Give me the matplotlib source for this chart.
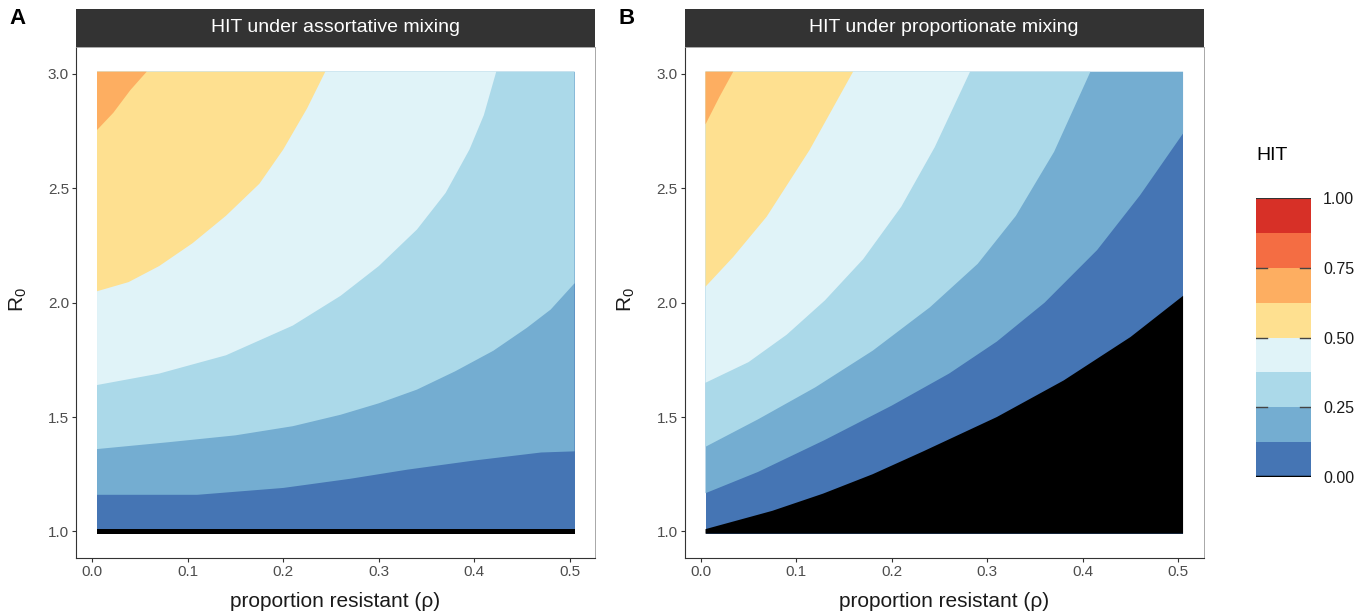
import matplotlib.pyplot as plt
from matplotlib.colors import ListedColormap
import numpy as np

plt.rcParams['font.family'] = ['Liberation Sans', 'DejaVu Sans']
plt.rcParams['mathtext.default'] = 'regular'

# HIT colour steps (RdYlBu, 8 classes), low -> high
hit_breaks = [0, 0.125, 0.25, 0.375, 0.5, 0.625, 0.75, 0.875, 1.0]
hit_colors = ['#4575b4', '#74add1', '#abd9e9', '#e0f3f8',
              '#fee090', '#fdae61', '#f46d43', '#d73027']
cbar_ticks = [0, 0.25, 0.5, 0.75, 1.0]

# tile grid: rho 0.01..0.50 (step 0.01), R0 1.00..3.00 (step 0.02)
rho_lo, rho_hi = 0.005, 0.505
r0_lo, r0_hi = 0.99, 3.01

# ---- A: assortative mixing, R0 where HIT crosses each break
a_125_rho = [0.005, 0.11, 0.2, 0.27, 0.33, 0.40, 0.47, 0.505]
a_125_r0 = [1.16, 1.16, 1.19, 1.23, 1.27, 1.31, 1.345, 1.35]
a_250_rho = [0.005, 0.08, 0.15, 0.21, 0.26, 0.30, 0.34, 0.38, 0.42, 0.455, 0.48, 0.505]
a_250_r0 = [1.36, 1.39, 1.42, 1.46, 1.51, 1.56, 1.62, 1.70, 1.79, 1.89, 1.97, 2.085]
a_375_rho = [0.005, 0.07, 0.14, 0.21, 0.26, 0.30, 0.34, 0.37, 0.395, 0.41, 0.423]
a_375_r0 = [1.64, 1.69, 1.77, 1.90, 2.03, 2.16, 2.32, 2.48, 2.67, 2.82, 3.01]
a_500_rho = [0.005, 0.038, 0.07, 0.105, 0.14, 0.175, 0.20, 0.225, 0.244]
a_500_r0 = [2.05, 2.09, 2.16, 2.26, 2.38, 2.52, 2.67, 2.85, 3.01]
a_625_rho = [0.005, 0.022, 0.04, 0.057]
a_625_r0 = [2.755, 2.83, 2.93, 3.01]
a_black_rho = [0.005, 0.505]
a_black_r0 = [1.01, 1.01]

# ---- B: proportionate mixing
b_125_rho = [0.005, 0.06, 0.13, 0.20, 0.26, 0.31, 0.36, 0.415, 0.46, 0.505]
b_125_r0 = [1.167, 1.26, 1.40, 1.55, 1.69, 1.83, 2.0, 2.23, 2.47, 2.74]
b_250_rho = [0.005, 0.06, 0.12, 0.18, 0.24, 0.29, 0.33, 0.37, 0.408]
b_250_r0 = [1.37, 1.49, 1.63, 1.79, 1.98, 2.17, 2.38, 2.66, 3.01]
b_375_rho = [0.005, 0.05, 0.09, 0.13, 0.17, 0.21, 0.245, 0.282]
b_375_r0 = [1.65, 1.74, 1.86, 2.01, 2.19, 2.42, 2.68, 3.01]
b_500_rho = [0.005, 0.034, 0.069, 0.114, 0.1595]
b_500_r0 = [2.07, 2.20, 2.376, 2.668, 3.01]
b_625_rho = [0.005, 0.0196, 0.034]
b_625_r0 = [2.78, 2.90, 3.01]
b_black_rho = [0.005, 0.075, 0.128, 0.18, 0.233, 0.31, 0.38, 0.45, 0.505]
b_black_r0 = [1.01, 1.09, 1.165, 1.25, 1.35, 1.50, 1.66, 1.85, 2.03]

W, H = 1367, 614
fig = plt.figure(figsize=(W / 100, H / 100), dpi=100)


def draw_panel(x0, bounds, black, title, letter):
    ax = fig.add_axes([x0 / W, 1 - 557.7 / H, 519 / W, 510.7 / H])
    # lowest band everywhere, then paint the bands above each crossing
    ax.fill([rho_lo, rho_hi, rho_hi, rho_lo], [r0_lo, r0_lo, r0_hi, r0_hi],
            color=hit_colors[0], lw=0)
    for k, (xs, ys) in enumerate(bounds):
        px = list(xs) + [xs[-1], rho_lo]
        py = list(ys) + [r0_hi, r0_hi]
        ax.fill(px, py, color=hit_colors[k + 1], lw=0)
    bx, by = black
    ax.fill(list(bx) + [rho_hi, rho_lo], list(by) + [r0_lo, r0_lo], color='black', lw=0)

    ax.set_xlim(-0.017, 0.5264)
    ax.set_ylim(0.885, 3.118)
    ax.set_xticks([0, 0.1, 0.2, 0.3, 0.4, 0.5])
    ax.set_xticklabels(['0.0', '0.1', '0.2', '0.3', '0.4', '0.5'])
    ax.set_yticks([1.0, 1.5, 2.0, 2.5, 3.0])
    ax.set_yticklabels(['1.0', '1.5', '2.0', '2.5', '3.0'])
    ax.tick_params(direction='out', length=3, width=0.8, color='#333333',
                   labelcolor='#4d4d4d', labelsize=11, pad=2)
    for s in ['left', 'bottom']:
        ax.spines[s].set_color('#333333')
        ax.spines[s].set_linewidth(0.8)
    for s in ['right', 'top']:
        ax.spines[s].set_color('#9a9a9a')
        ax.spines[s].set_linewidth(0.6)

    # facet strip
    sx = fig.add_axes([x0 / W, 1 - 47 / H, 519 / W, 38 / H])
    sx.set_facecolor('#333333')
    sx.set_xticks([])
    sx.set_yticks([])
    for s in sx.spines.values():
        s.set_visible(False)
    sx.text(0.5, 0.5, title, color='white', fontsize=14, ha='center', va='center',
            transform=sx.transAxes)

    fig.text((x0 + 259.5) / W, 1 - 607 / H, 'proportion resistant (\u03c1)',
             fontsize=15, ha='center', va='baseline', color='#1a1a1a')
    fig.text((x0 - 58) / W, 1 - 300 / H, 'R$_0$', fontsize=15, rotation=90,
             ha='center', va='center', color='#1a1a1a')
    fig.text((x0 - 58) / W, 1 - 18 / H, letter, fontsize=16, fontweight='bold',
             ha='center', va='center')
    return ax


draw_panel(76, [(a_125_rho, a_125_r0), (a_250_rho, a_250_r0), (a_375_rho, a_375_r0),
                (a_500_rho, a_500_r0), (a_625_rho, a_625_r0)],
           (a_black_rho, a_black_r0), 'HIT under assortative mixing', 'A')
draw_panel(684.5, [(b_125_rho, b_125_r0), (b_250_rho, b_250_r0), (b_375_rho, b_375_r0),
                   (b_500_rho, b_500_r0), (b_625_rho, b_625_r0)],
           (b_black_rho, b_black_r0), 'HIT under proportionate mixing', 'B')

# legend colour steps
cax = fig.add_axes([1256 / W, 1 - 476.7 / H, 54.7 / W, 278.4 / H])
cax.pcolormesh([0, 1], hit_breaks, np.arange(8).reshape(8, 1),
               cmap=ListedColormap(hit_colors), vmin=-0.5, vmax=7.5)
cax.set_xlim(0, 1)
cax.set_ylim(0, 1)
cax.set_xticks([])
cax.yaxis.tick_right()
cax.set_yticks(cbar_ticks)
cax.set_yticklabels(['%.2f' % t for t in cbar_ticks])
cax.tick_params(axis='y', length=0, pad=9, labelsize=11.5, labelcolor='#1a1a1a')
for s in cax.spines.values():
    s.set_visible(False)
for t in cbar_ticks[1:-1]:
    cax.plot([0, 0.2], [t, t], color='#444444', lw=1)
    cax.plot([0.8, 1], [t, t], color='#444444', lw=1)
cax.axhline(0, color='black', lw=2.5)
cax.axhline(1, color='#333333', lw=0.8)
fig.text(1256 / W, 1 - 155 / H, 'HIT', fontsize=14, ha='left', va='center')

fig.savefig('out.png', dpi=100)
